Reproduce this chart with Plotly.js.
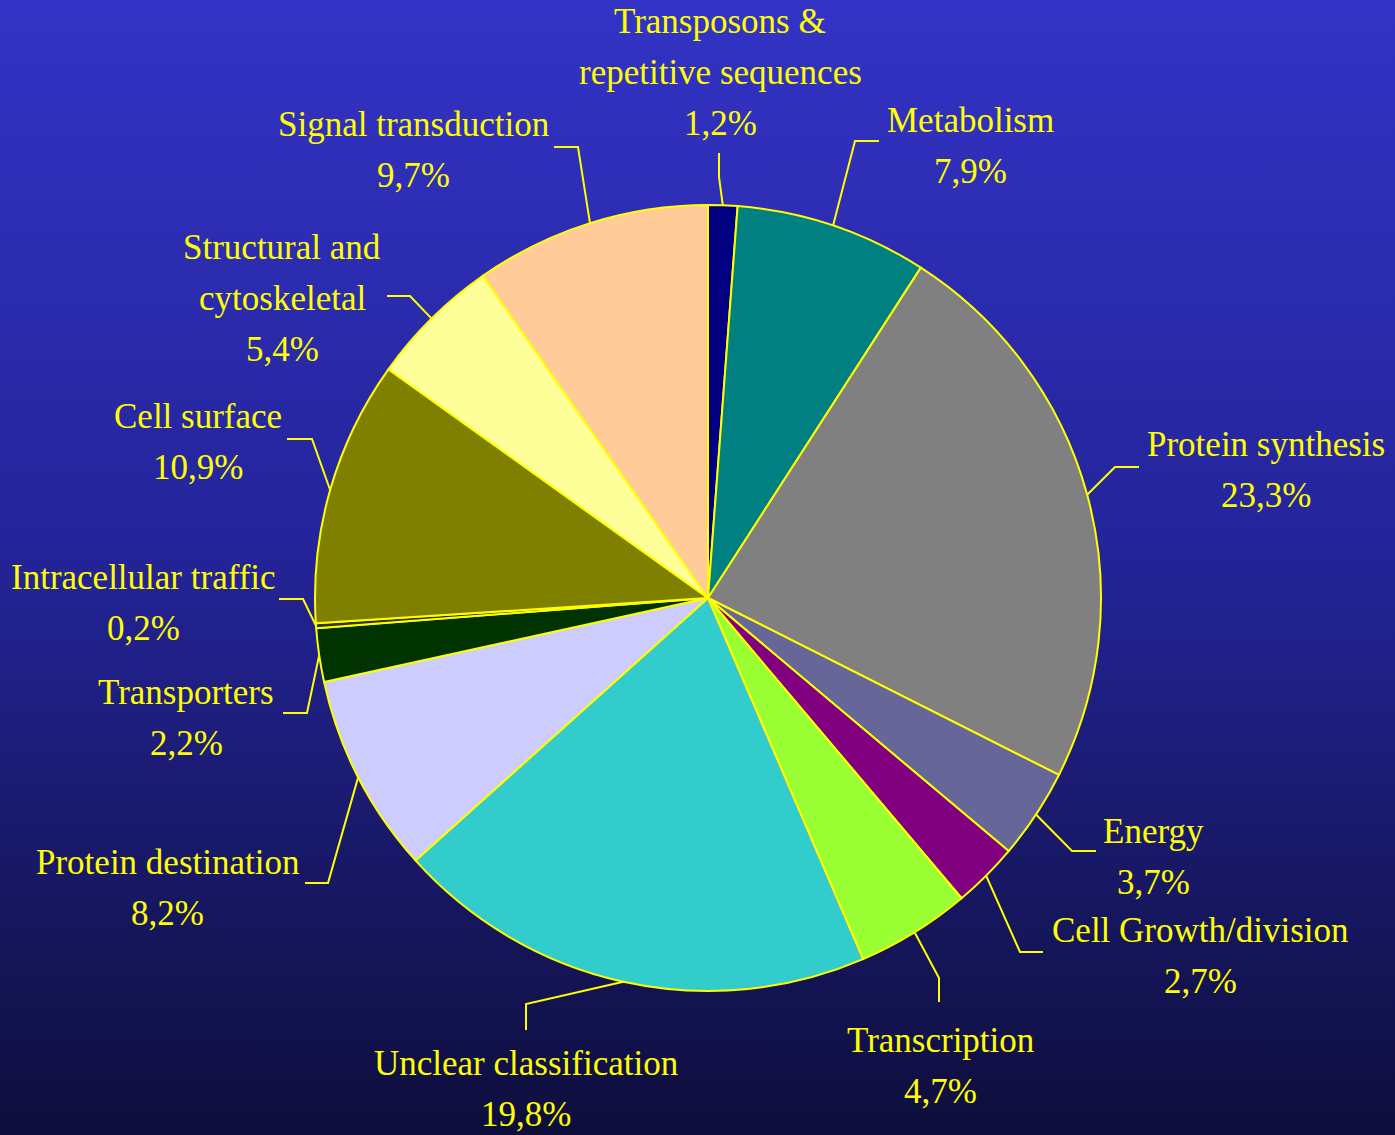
<!DOCTYPE html>
<html><head><meta charset="utf-8">
<script src="https://cdn.plot.ly/plotly-3.0.1.min.js"></script>
<style>
html,body{margin:0;padding:0;}
body{width:1395px;height:1135px;background:linear-gradient(to bottom,#3333C6 0%,#24249A 48%,#0E0E3C 100%);overflow:hidden;}
#chart{width:1395px;height:1135px;}
</style>
</head><body><div id="chart"></div>
<script>
// ---- data ----
const categories = [
  "Transposons &<br>repetitive sequences", "Metabolism", "Protein synthesis", "Energy",
  "Cell Growth/division", "Transcription", "Unclear classification", "Protein destination",
  "Transporters", "Intracellular traffic", "Cell surface", "Structural and<br>cytoskeletal",
  "Signal transduction"
];
const percentValues = [1.2, 7.9, 23.3, 3.7, 2.7, 4.7, 19.8, 8.2, 2.2, 0.2, 10.9, 5.4, 9.7];
const sliceColors = [
  "#000080", "#008080", "#808080", "#666699", "#800080", "#99FF33", "#33CCCC",
  "#CCCCFF", "#003300", "#333300", "#808000", "#FFFF99", "#FFCC99"
];

// ---- layout (pixel positions of label text and leader-line elbows) ----
const W = 1395, H = 1135;
const CX = 708, CY = 598, R = 393;
const labelCenterX = [720, 971, 1266, 1153, 1200, 940, 526, 167, 186, 143, 198, 282, 413];
const labelTopY    = [22, 120, 445, 831, 930, 1040, 1063, 862, 692, 577, 417, 248, 125];
const elbowPts = [[719,177],[855,141],[1115,467],[1072,851],[1020,952],[939,978],[526,1004],[328,883],[307,713],[303,599],[312,439],[410,296],[578,147]];
const endPts   = [[719,153],[879,141],[1139,467],[1096,851],[1043,952],[939,1002],[526,1030],[305,883],[283,713],[279,599],[287,439],[387,296],[554,147]];
const LINE_STEP = 51;
const FONT = {family: "Liberation Serif, Times New Roman, serif", size: 35, color: "#FFFF00"};

const px = x => x / W;
const py = y => 1 - y / H;

const total = percentValues.reduce((a, b) => a + b, 0);
const shapes = [];
const annotations = [];
let cum = 0;
percentValues.forEach((v, i) => {
  const mid = (cum + v / 2) / total * 2 * Math.PI;
  cum += v;
  const ax = CX + R * Math.sin(mid);
  const ay = CY - R * Math.cos(mid);
  const [ex, ey] = elbowPts[i];
  const [tx, ty] = endPts[i];
  shapes.push({
    type: "path", xref: "paper", yref: "paper",
    path: `M ${px(ax)} ${py(ay)} L ${px(ex)} ${py(ey)} L ${px(tx)} ${py(ty)}`,
    line: {color: "#FFFF00", width: 2}
  });
  const lines = categories[i].split("<br>").concat([v.toFixed(1).replace(".", ",") + "%"]);
  lines.forEach((t, k) => {
    annotations.push({
      xref: "paper", yref: "paper", x: px(labelCenterX[i]), y: py(labelTopY[i] + k * LINE_STEP),
      xanchor: "center", yanchor: "middle", showarrow: false, text: t, font: FONT
    });
  });
});

const trace = {
  type: "pie",
  labels: categories.map(c => c.replace("<br>", " ")),
  values: percentValues,
  sort: false,
  direction: "clockwise",
  rotation: 0,
  textinfo: "none",
  hoverinfo: "label+percent",
  showlegend: false,
  marker: {colors: sliceColors, line: {color: "#FFFF00", width: 2}},
  domain: {x: [px(CX - R), px(CX + R)], y: [py(CY + R), py(CY - R)]}
};

Plotly.newPlot("chart", [trace], {
  width: W, height: H,
  margin: {l: 0, r: 0, t: 0, b: 0, pad: 0},
  paper_bgcolor: "rgba(0,0,0,0)",
  plot_bgcolor: "rgba(0,0,0,0)",
  showlegend: false,
  shapes: shapes,
  annotations: annotations
}, {displayModeBar: false, staticPlot: true});
</script>
</body></html>
